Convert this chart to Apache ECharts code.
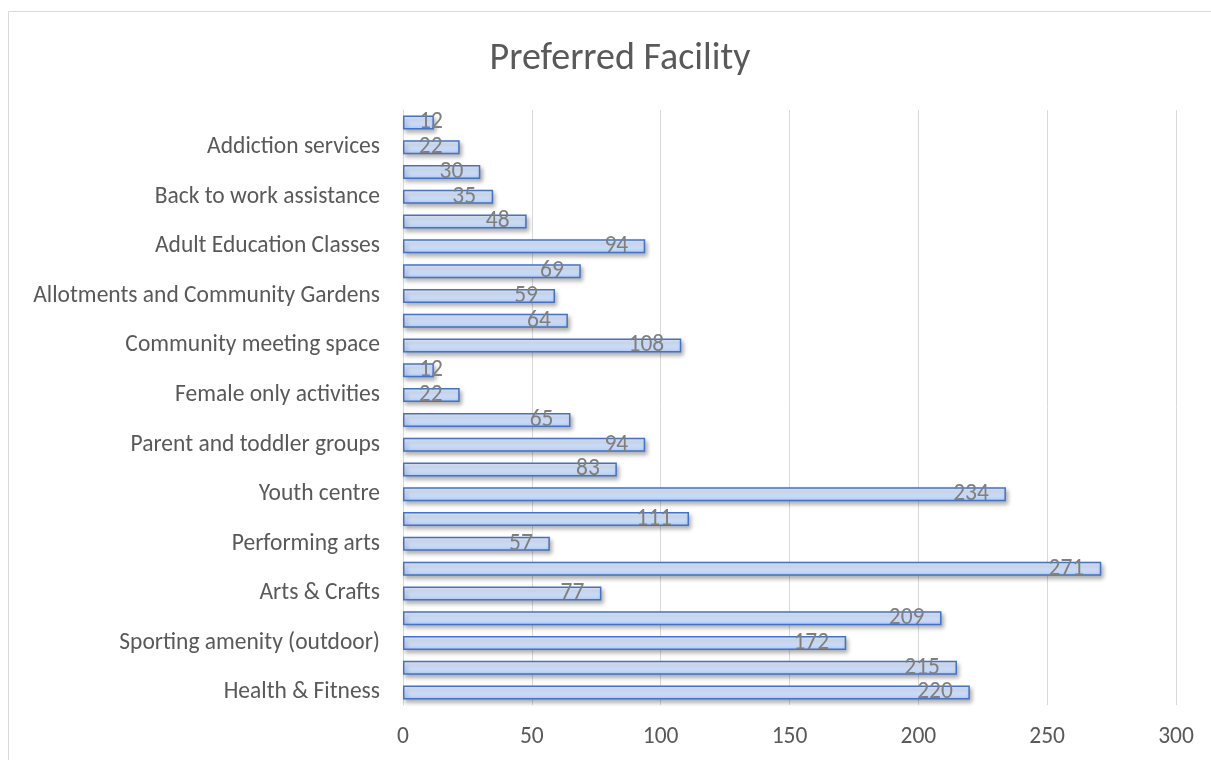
<!DOCTYPE html>
<html>
<head>
<meta charset="utf-8">
<script src="https://cdn.jsdelivr.net/npm/echarts@6/dist/echarts.min.js"></script>
<style>html,body{margin:0;padding:0;background:#fff;}#c{width:1211px;height:760px;}</style>
</head>
<body>
<div id="c"></div>
<script>
// Categories bottom to top (only every other one is labelled in the reference)
const categories = [
  "Health & Fitness",
  "Sporting amenity (indoor)",
  "Sporting amenity (outdoor)",
  "Swimming pool",
  "Arts & Crafts",
  "Library",
  "Performing arts",
  "Music",
  "Youth centre",
  "Older people's activities",
  "Parent and toddler groups",
  "Childcare",
  "Female only activities",
  "Male only activities",
  "Community meeting space",
  "Cafe",
  "Allotments and Community Gardens",
  "Environmental projects",
  "Adult Education Classes",
  "IT access",
  "Back to work assistance",
  "Advice services",
  "Addiction services",
  "Other"
];
const values = [220, 215, 172, 209, 77, 271, 57, 111, 234, 83, 94, 65, 22, 12, 108, 64, 59, 69, 94, 48, 35, 30, 22, 12];
const xTicks = [0, 50, 100, 150, 200, 250, 300];

const chart = echarts.init(document.getElementById('c'));
const font = "Carlito, Lato, 'Open Sans', sans-serif";
const labelBase = {show: true, fontFamily: font, fontSize: 23.5, color: '#7f7f7f'};
const seriesData = values.map(v => ({
  value: v,
  label: v < 20
    ? Object.assign({}, labelBase, {position: 'insideLeft', distance: 16})
    : Object.assign({}, labelBase, {position: 'insideRight', distance: 17})
}));

chart.setOption({
  animation: false,
  backgroundColor: '#fff',
  graphic: [{
    type: 'rect', shape: {x: 8.5, y: 11.5, width: 1300, height: 900},
    style: {fill: 'none', stroke: '#d9d9d9', lineWidth: 1}, silent: true, z: -1
  }],
  title: {
    text: 'Preferred Facility', left: 615, top: 35, textAlign: 'center',
    textStyle: {fontFamily: font, fontSize: 38, fontWeight: 'normal', color: '#595959'}
  },
  grid: {left: 403, right: 35, top: 110, bottom: 55, containLabel: false},
  xAxis: {
    type: 'value', min: xTicks[0], max: xTicks[xTicks.length - 1], interval: 50,
    axisLine: {show: false}, axisTick: {show: false},
    splitLine: {lineStyle: {color: '#d9d9d9', width: 1}},
    axisLabel: {margin: 20, fontFamily: font, fontSize: 23.5, color: '#595959'}
  },
  yAxis: {
    type: 'category', data: categories,
    axisLine: {lineStyle: {color: '#d9d9d9', width: 1}},
    axisTick: {show: false},
    axisLabel: {interval: 1, margin: 23, fontFamily: font, fontSize: 23.5, color: '#595959'}
  },
  series: [{
    type: 'bar', data: seriesData, barWidth: 14,
    itemStyle: {
      color: new echarts.graphic.LinearGradient(0, 0, 0, 1, [
        {offset: 0, color: '#e6eefd'},
        {offset: 0.5, color: '#d0e0fa'},
        {offset: 1, color: '#b3cbf4'}
      ]),
      borderColor: '#4472c4', borderWidth: 1.5,
      shadowColor: 'rgba(0,0,0,0.3)', shadowBlur: 4, shadowOffsetX: 2, shadowOffsetY: 3
    }
  }]
});
</script>
</body>
</html>
